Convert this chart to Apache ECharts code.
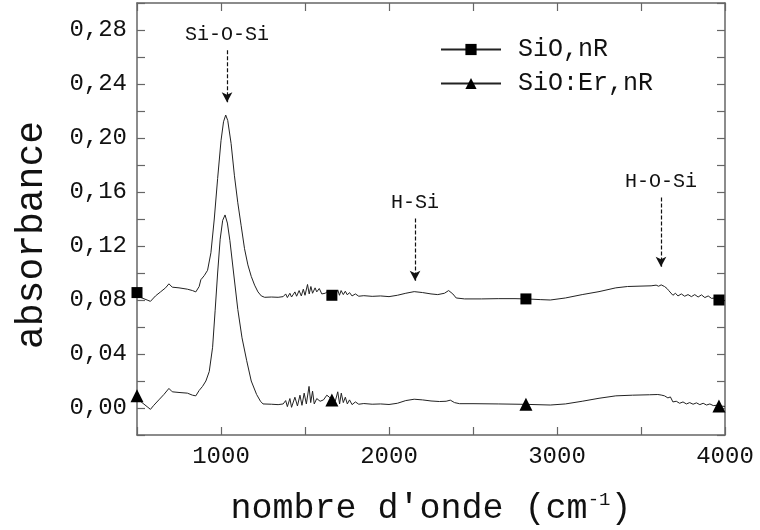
<!DOCTYPE html>
<html lang="fr">
<head>
    <meta charset="UTF-8">
    <title>Spectre d'absorbance</title>
    <script src="https://cdn.jsdelivr.net/npm/echarts@6/dist/echarts.min.js"></script>
    <style>
        html, body { margin: 0; padding: 0; background: #fff; }
        #chart { width: 760px; height: 530px; }
    </style>
</head>
<body>
    <div id="chart"></div>

    <script>
        // SiO,nR : nombre d'onde / absorbance
        const sioX = [500, 520, 560, 580, 610, 640, 670, 690, 710, 750, 800, 830, 850, 870, 880, 900, 920, 940, 960, 980,
            1000, 1015, 1028, 1040, 1060, 1080, 1100, 1120, 1140, 1160, 1180, 1200, 1220, 1240, 1260, 1300, 1340, 1370,
            1385, 1395, 1410, 1420, 1440, 1450, 1465, 1478, 1490, 1500, 1515, 1525, 1535, 1545, 1560, 1570, 1585, 1600,
            1620, 1640, 1660, 1680, 1695, 1705, 1715, 1728, 1740, 1752, 1765, 1780, 1800, 1820, 1850, 1900, 1950, 2000,
            2050, 2100, 2150, 2200, 2250, 2290, 2330, 2355, 2365, 2380, 2400, 2450, 2550, 2650, 2750, 2815, 2900, 2960,
            3050, 3150, 3250, 3350, 3420, 3500, 3560, 3590, 3605, 3620, 3640, 3655, 3665, 3675, 3690, 3705, 3720, 3740,
            3760, 3780, 3800, 3820, 3840, 3860, 3880, 3900, 3920, 3940, 3964, 4000];
        const sioY = [0.0855, 0.082, 0.080, 0.079, 0.083, 0.086, 0.089, 0.092, 0.0895, 0.089, 0.088, 0.087, 0.086, 0.090, 0.095, 0.098, 0.102, 0.115, 0.140, 0.170,
            0.198, 0.212, 0.217, 0.213, 0.196, 0.172, 0.152, 0.135, 0.118, 0.106, 0.0975, 0.091, 0.086, 0.083, 0.082, 0.0822, 0.0820, 0.0825,
            0.0845, 0.0818, 0.0850, 0.0822, 0.0860, 0.0828, 0.0870, 0.0830, 0.0880, 0.0835, 0.0915, 0.0845, 0.0900, 0.0850, 0.0890, 0.0860, 0.0885, 0.0845,
            0.0850, 0.0870, 0.0835, 0.0830, 0.0875, 0.0835, 0.0870, 0.0840, 0.0865, 0.0838, 0.0855, 0.0830, 0.0845, 0.0828, 0.0832, 0.0827, 0.0830, 0.0825,
            0.0835, 0.0850, 0.0862, 0.0855, 0.0845, 0.0840, 0.0850, 0.0870, 0.0874, 0.0845, 0.0815, 0.0808, 0.0808, 0.0810, 0.0810, 0.0808, 0.0803, 0.0800,
            0.0815, 0.0840, 0.0862, 0.0890, 0.0900, 0.0903, 0.0905, 0.0910, 0.0902, 0.0912, 0.0900, 0.0885, 0.0870, 0.0880, 0.0835, 0.0850, 0.0830, 0.0845,
            0.0828, 0.0840, 0.0825, 0.0840, 0.0822, 0.0838, 0.0818, 0.0830, 0.0812, 0.0815, 0.0800, 0.0795];

        // SiO:Er,nR
        const sioErX = [500, 520, 560, 580, 600, 630, 660, 690, 710, 750, 800, 830, 850, 870, 890, 910, 930, 950, 965, 980,
            995, 1010, 1024, 1038, 1053, 1075, 1100, 1125, 1153, 1180, 1212, 1235, 1250, 1300, 1340, 1370, 1385, 1395,
            1410, 1420, 1440, 1455, 1470, 1482, 1495, 1508, 1524, 1534, 1545, 1555, 1570, 1590, 1610, 1630, 1645, 1660,
            1680, 1695, 1706, 1716, 1728, 1740, 1752, 1765, 1780, 1800, 1820, 1850, 1900, 1950, 2000, 2050, 2100, 2150,
            2200, 2250, 2300, 2340, 2365, 2390, 2420, 2500, 2650, 2815, 2960, 3050, 3150, 3250, 3350, 3450, 3550, 3600,
            3620, 3640, 3660, 3675, 3690, 3710, 3730, 3750, 3770, 3790, 3810, 3830, 3850, 3870, 3890, 3910, 3930, 3950,
            3964, 4000];
        const sioErY = [0.009, 0.005, 0.001, -0.001, 0.002, 0.006, 0.010, 0.0145, 0.012, 0.0115, 0.011, 0.0095, 0.009, 0.013, 0.016, 0.020, 0.027, 0.045, 0.072, 0.100,
            0.125, 0.139, 0.143, 0.137, 0.124, 0.100, 0.073, 0.052, 0.035, 0.020, 0.010, 0.005, 0.003, 0.0028, 0.0025, 0.0030, 0.0055, 0.0010,
            0.0070, 0.0005, 0.0080, 0.0015, 0.0095, 0.0020, 0.0110, 0.0030, 0.0160, 0.0040, 0.0125, 0.0030, 0.0070, 0.0050, 0.0060, 0.0095, 0.0080, 0.0060,
            0.0050, 0.0120, 0.0030, 0.0110, 0.0040, 0.0080, 0.0030, 0.0060, 0.0025, 0.0045, 0.0028, 0.0033, 0.0028, 0.0030, 0.0026, 0.0035, 0.0055, 0.0065,
            0.0060, 0.0052, 0.0048, 0.0050, 0.0058, 0.0040, 0.0032, 0.0032, 0.0030, 0.0027, 0.0022, 0.0030, 0.0050, 0.0072, 0.0090, 0.0095, 0.0098, 0.0100,
            0.0096, 0.0090, 0.0075, 0.0082, 0.0045, 0.0050, 0.0035, 0.0045, 0.0030, 0.0040, 0.0028, 0.0038, 0.0025, 0.0035, 0.0022, 0.0030, 0.0018, 0.0020,
            0.0015, 0.0012];

        // positions des symboles sur les courbes
        const markerX = [500, 1660, 2815, 3964];

        // annotations (flèches pointillées)
        const annotLabels = ['Si-O-Si', 'H-Si', 'H-O-Si'];
        const annotX = [1036, 2155, 3619];
        const annotYStart = [0.265, 0.1404, 0.156];
        const annotYEnd = [0.2265, 0.0943, 0.1047];

        const MONO = '"Liberation Mono", "DejaVu Sans Mono", monospace';
        const AXIS_COLOR = '#666';

        const chart = echarts.init(document.getElementById('chart'));

        function pairs(xs, ys) {
            return xs.map((x, i) => [x, ys[i]]);
        }

        function markerSize(size) {
            return (val) => markerX.includes(val[0]) ? size : 0;
        }

        const annotLines = annotLabels.map((name, i) => [
            { name: name, coord: [annotX[i], annotYStart[i]] },
            { coord: [annotX[i], annotYEnd[i]] }
        ]);

        const tickCommon = {
            axisLine: { show: true, onZero: false, lineStyle: { color: AXIS_COLOR, width: 1.5 } },
            axisTick: { show: true, inside: true, length: 8, lineStyle: { color: AXIS_COLOR, width: 1.2 } },
            splitLine: { show: false }
        };

        chart.setOption({
            animation: false,
            backgroundColor: '#fff',
            grid: { left: 137, right: 35, top: 3, bottom: 95, outerBoundsMode: 'none', containLabel: false },
            legend: {
                orient: 'vertical',
                left: 435,
                top: 32,
                itemWidth: 60,
                itemHeight: 14,
                itemGap: 9,
                textStyle: { fontFamily: MONO, fontSize: 25, color: '#111', padding: [0, 0, 0, 12] },
                data: ['SiO,nR', 'SiO:Er,nR']
            },
            xAxis: [
                Object.assign({
                    type: 'value',
                    min: 500,
                    max: 4000,
                    interval: 500,
                    name: "{t|nombre d'onde (cm}{s|-1}{t|)}",
                    nameLocation: 'middle',
                    nameGap: 55,
                    nameTextStyle: {
                        rich: {
                            t: { fontFamily: MONO, fontSize: 35, color: '#111', lineHeight: 38 },
                            s: { fontFamily: MONO, fontSize: 19, color: '#111', verticalAlign: 'top', lineHeight: 18 }
                        }
                    },
                    axisLabel: {
                        margin: 10,
                        fontFamily: MONO,
                        fontSize: 24,
                        color: '#111',
                        formatter: (v) => (v % 1000 === 0 ? String(v) : '')
                    }
                }, tickCommon),
                Object.assign({
                    type: 'value',
                    position: 'top',
                    min: 500,
                    max: 4000,
                    interval: 500,
                    axisLabel: { show: false }
                }, tickCommon)
            ],
            yAxis: [
                Object.assign({
                    type: 'value',
                    min: -0.02,
                    max: 0.30,
                    interval: 0.02,
                    name: 'absorbance',
                    nameLocation: 'middle',
                    nameGap: 86,
                    nameTextStyle: { fontFamily: MONO, fontSize: 38, color: '#111', padding: [0, 32, 0, 0] },
                    axisLabel: {
                        margin: 10,
                        fontFamily: MONO,
                        fontSize: 24,
                        color: '#111',
                        formatter: (v) => {
                            const h = Math.round(v * 100);
                            return (h >= 0 && h % 4 === 0 && h <= 28) ? (h / 100).toFixed(2).replace('.', ',') : '';
                        }
                    }
                }, tickCommon),
                Object.assign({
                    type: 'value',
                    position: 'right',
                    min: -0.02,
                    max: 0.30,
                    interval: 0.02,
                    axisLabel: { show: false }
                }, tickCommon)
            ],
            series: [
                {
                    name: 'SiO,nR',
                    type: 'line',
                    data: pairs(sioX, sioY),
                    symbol: 'rect',
                    symbolSize: markerSize(11),
                    showSymbol: true,
                    showAllSymbol: true,
                    lineStyle: { color: '#222', width: 1 },
                    itemStyle: { color: '#000' },
                    markLine: {
                        silent: true,
                        symbol: ['none', 'arrow'],
                        symbolSize: [8, 10],
                        lineStyle: { color: '#111', type: [4, 2], width: 1.2 },
                        label: {
                            show: true,
                            position: 'start',
                            distance: 6,
                            formatter: (p) => p.name,
                            fontFamily: MONO,
                            fontSize: 20,
                            color: '#111'
                        },
                        data: annotLines
                    }
                },
                {
                    name: 'SiO:Er,nR',
                    type: 'line',
                    data: pairs(sioErX, sioErY),
                    symbol: 'triangle',
                    symbolSize: markerSize(13),
                    showSymbol: true,
                    showAllSymbol: true,
                    lineStyle: { color: '#222', width: 1 },
                    itemStyle: { color: '#000' }
                }
            ]
        });
    </script>
</body>
</html>
